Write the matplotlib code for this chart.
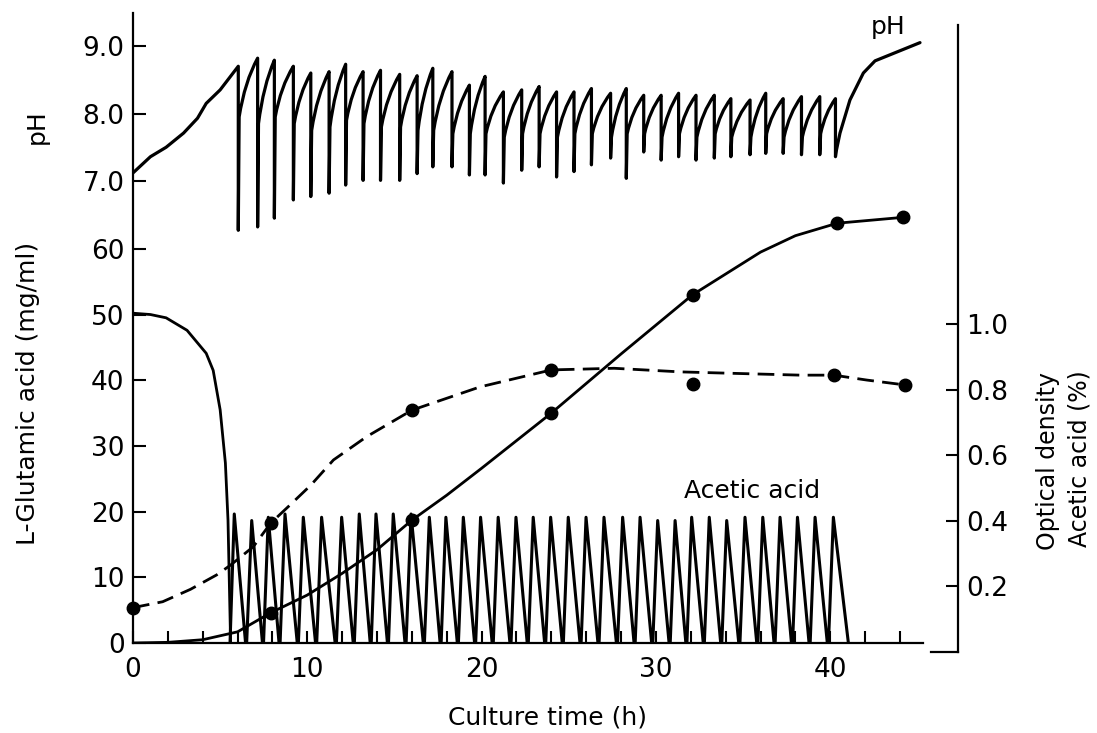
import numpy as np
import matplotlib
matplotlib.use('Agg')
import matplotlib.pyplot as plt
from matplotlib.path import Path
from matplotlib.patches import PathPatch

plt.rcParams['font.family'] = ['DejaVu Sans']

# pH before the feeding starts
ph_base_t = [0.0, 1.0, 1.9, 2.9, 3.7, 4.2, 5.0]
ph_base = [7.12, 7.36, 7.50, 7.71, 7.93, 8.15, 8.35]

# pH saw-tooth: peak before each feed, dip after the feed, level it comes back to
ph_peak_t = [6.04, 7.15, 8.11, 9.2, 10.2, 11.25, 12.2, 13.2, 14.2, 15.3, 16.3, 17.2,
             18.3, 19.3, 20.2, 21.25, 22.3, 23.3, 24.3, 25.3, 26.3, 27.4, 28.3, 29.3,
             30.3, 31.3, 32.3, 33.35, 34.3, 35.4, 36.3, 37.3, 38.35, 39.4, 40.3]
ph_peak = [8.70, 8.82, 8.79, 8.70, 8.60, 8.62, 8.73, 8.62, 8.64, 8.58, 8.56, 8.67,
           8.62, 8.42, 8.55, 8.32, 8.35, 8.40, 8.32, 8.32, 8.37, 8.30, 8.37, 8.27,
           8.27, 8.30, 8.27, 8.27, 8.22, 8.20, 8.30, 8.22, 8.25, 8.25, 8.22]
ph_min = [6.27, 6.32, 6.45, 6.72, 6.77, 6.82, 6.94, 7.01, 7.01, 7.01, 7.11, 7.21,
          7.21, 7.09, 7.09, 6.97, 7.16, 7.21, 7.06, 7.14, 7.24, 7.34, 7.04, 7.43,
          7.31, 7.36, 7.31, 7.34, 7.36, 7.39, 7.41, 7.41, 7.39, 7.39, 7.36]
ph_rec = [7.95, 7.85, 7.95, 7.85, 7.75, 7.80, 7.90, 7.85, 7.80, 7.80, 7.75, 7.75,
          7.70, 7.70, 7.70, 7.65, 7.70, 7.70, 7.65, 7.70, 7.70, 7.65, 7.70, 7.70,
          7.65, 7.70, 7.65, 7.70, 7.65, 7.65, 7.70, 7.65, 7.65, 7.70, 7.45]
# pH after the last feed
ph_tail_t = [40.56, 41.13, 41.9, 42.57, 45.15]
ph_tail = [7.71, 8.20, 8.60, 8.78, 9.05]

# acetic acid feeding (right axis)
ac_peak_t = [5.81, 6.81, 7.76, 8.72, 9.77, 10.82, 11.97, 12.98, 13.94, 14.93, 15.95, 17.0,
             17.95, 18.95, 19.94, 20.95, 21.97, 22.96, 23.96, 24.97, 25.99, 27.02, 28.09,
             29.09, 30.1, 31.1, 32.05, 33.06, 34.06, 35.11, 36.13, 37.12, 38.12, 39.13, 40.18]
ac_peak = [0.42, 0.40, 0.41, 0.42, 0.41, 0.41, 0.41, 0.42, 0.42, 0.42, 0.42, 0.41,
           0.41, 0.41, 0.41, 0.41, 0.41, 0.41, 0.41, 0.41, 0.41, 0.41, 0.41, 0.41,
           0.40, 0.40, 0.41, 0.41, 0.40, 0.41, 0.41, 0.41, 0.41, 0.41, 0.41]
ac_trough_t = [6.5, 7.47, 8.42, 9.47, 10.52, 11.65, 12.68, 13.65, 14.64, 15.65, 16.7, 17.66,
               18.65, 19.64, 20.65, 21.67, 22.66, 23.66, 24.67, 25.69, 26.72, 27.78, 28.79,
               29.8, 30.8, 31.76, 32.76, 33.76, 34.8, 35.83, 36.82, 37.82, 38.83, 39.88, 41.1]
ac_start_t = 5.55

# descending solid curve (left axis)
sub_t = [0.0, 1.0, 1.9, 3.1, 4.2, 4.6, 5.0, 5.3, 5.45, 5.6]
sub = [50.2, 50.0, 49.5, 47.6, 44.1, 41.5, 35.5, 27.4, 18.7, 0.0]

# L-glutamic acid (left axis)
glu_t = [0, 2, 4, 6, 7.9, 10, 12, 14, 16, 18, 20, 22, 24, 28, 32.1, 36, 38, 40.4, 44.2]
glu = [0.0, 0.1, 0.5, 1.7, 4.6, 7.3, 10.6, 14.2, 18.7, 22.5, 26.6, 30.8, 35.0, 44.0,
       53.0, 59.5, 62.0, 63.9, 64.8]
glu_pts_t = [7.9, 16.0, 24.0, 32.1, 40.4, 44.2]
glu_pts = [4.6, 18.7, 35.0, 53.0, 63.9, 64.8]

# optical density (right axis)
od_t = [0, 1.7, 3.3, 4.8, 5.6, 6.9, 7.9, 9.0, 10.2, 11.5, 13.4, 16.0, 19.9, 24.0,
        27.6, 31.4, 34.8, 38.3, 40.2, 42.1, 44.3]
od = [0.134, 0.152, 0.19, 0.234, 0.264, 0.32, 0.392, 0.447, 0.508, 0.585, 0.656, 0.737,
      0.808, 0.86, 0.865, 0.854, 0.849, 0.844, 0.844, 0.829, 0.814]
od_pts_t = [0, 7.9, 16.0, 24.0, 32.1, 40.2, 44.3]
od_pts = [0.134, 0.392, 0.737, 0.86, 0.817, 0.844, 0.814]

W, H = 1097, 733
fig = plt.figure(figsize=(W / 100, H / 100), dpi=100)
ax = fig.add_axes([133 / W, 90 / H, 825 / W, 630 / H])
ax_ph = ax.twinx()
ax_r = ax.twinx()

ax.set_xlim(0, 47.33)
ax.set_ylim(0, 95.9)
ax_ph.set_ylim(0.156, 9.489)
ax_r.set_ylim(0.026, 1.950)

lw = 2.0
# pH trace
verts = [(ph_base_t[0], ph_base[0])]
codes = [Path.MOVETO]
for t, p in zip(ph_base_t[1:], ph_base[1:]):
    verts.append((t, p)); codes.append(Path.LINETO)
n = len(ph_peak_t)
for i in range(n):
    if i == 0:
        verts.append((ph_peak_t[0], ph_peak[0])); codes.append(Path.LINETO)
    verts.append((ph_peak_t[i], ph_min[i])); codes.append(Path.LINETO)
    tr = ph_peak_t[i] + 0.05
    verts.append((tr, ph_rec[i])); codes.append(Path.LINETO)
    if i < n - 1:
        tn = ph_peak_t[i + 1]
        pn = ph_peak[i + 1]
        verts.append((tr + 0.3 * (tn - tr), ph_rec[i] + 0.6 * (pn - ph_rec[i])))
        codes.append(Path.CURVE3)
        verts.append((tn, pn)); codes.append(Path.CURVE3)
for t, p in zip(ph_tail_t, ph_tail):
    verts.append((t, p)); codes.append(Path.LINETO)
ax_ph.add_patch(PathPatch(Path(verts, codes), fill=False, lw=2.3, edgecolor='black',
                          transform=ax_ph.transData, capstyle='round', joinstyle='round'))

# acetic acid saw-tooth
ac_x = [ac_start_t]
ac_y = [0.0]
for tp, vp, tt in zip(ac_peak_t, ac_peak, ac_trough_t):
    ac_x += [tp, tt]
    ac_y += [vp, 0.0]
ax_r.plot(ac_x, ac_y, color='black', lw=2.2)

ax.plot(sub_t, sub, color='black', lw=lw)
ax.plot(glu_t, glu, color='black', lw=lw)
ax.plot(glu_pts_t, glu_pts, 'o', color='black', ms=9)
ax_r.plot(od_t, od, color='black', lw=lw, ls=(0, (6, 3)))
ax_r.plot(od_pts_t, od_pts, 'o', color='black', ms=9, clip_on=False)

# axes styling
for a in (ax, ax_ph, ax_r):
    for s in a.spines.values():
        s.set_visible(False)
ax.spines['left'].set_visible(True)
ax.spines['bottom'].set_visible(True)
ax.spines['bottom'].set_bounds(0, 45.3)
ax_r.spines['right'].set_visible(True)
ax_r.spines['right'].set_bounds(0, 1.913)
for s in (ax.spines['left'], ax.spines['bottom'], ax_r.spines['right']):
    s.set_linewidth(1.6)
ax_r.plot([45.8, 47.33], [0, 0], color='black', lw=1.6, clip_on=False)

ax.set_xticks([0, 10, 20, 30, 40])
ax.set_xticks([2, 4, 6, 8, 12, 14, 16, 18, 22, 24, 26, 28, 32, 34, 36, 38, 42, 44], minor=True)
ax.set_yticks([0, 10, 20, 30, 40, 50, 60])
ax.tick_params(axis='both', which='both', direction='in', length=9, width=1.5,
               labelsize=19)
ax.tick_params(axis='x', which='both', pad=10)
ax.tick_params(axis='y', pad=6)

ax_ph.yaxis.set_ticks_position('left')
ax_ph.yaxis.set_label_position('left')
ax_ph.set_yticks([7, 8, 9])
ax_ph.set_yticklabels(['7.0', '8.0', '9.0'])
ax_ph.tick_params(axis='y', direction='in', length=9, width=1.5, labelsize=19, pad=6)

ax_r.set_yticks([0.2, 0.4, 0.6, 0.8, 1.0])
ax_r.set_yticklabels(['0.2', '0.4', '0.6', '0.8', '1.0'])
ax_r.tick_params(axis='y', direction='in', length=9, width=1.5, labelsize=19, pad=6)

# text
ax_ph.text(43.3, 9.28, 'pH', fontsize=18, ha='center', va='center')
ax_r.text(35.5, 0.49, 'Acetic acid', fontsize=18, ha='center', va='center')
fig.text(28 / W, 1 - 393 / H, 'L-Glutamic acid (mg/ml)', rotation=90,
         fontsize=18, ha='center', va='center')
fig.text(37 / W, 1 - 127 / H, 'pH', rotation=90, fontsize=18, ha='center', va='center')
fig.text(547 / W, 1 - 717 / H, 'Culture time (h)', fontsize=18, ha='center', va='center')
fig.text(1048 / W, 1 - 461 / H, 'Optical density', rotation=90, fontsize=17,
         ha='center', va='center')
fig.text(1080 / W, 1 - 459 / H, 'Acetic acid (%)', rotation=90, fontsize=17,
         ha='center', va='center')

fig.savefig('out.png', dpi=100, facecolor='white')
